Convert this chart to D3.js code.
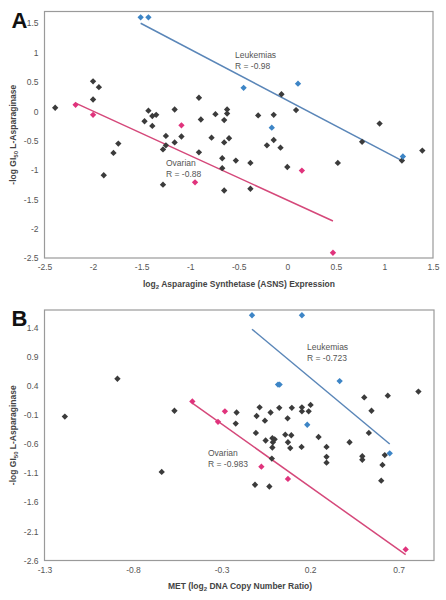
<!DOCTYPE html>
<html><head><meta charset="utf-8">
<script src="https://cdn.jsdelivr.net/npm/d3@7"></script>
<style>body{margin:0;background:#fff;} svg{display:block;font-family:"Liberation Sans",Arial,sans-serif;}</style>
</head><body>
<svg id="c" width="446" height="600"></svg>
<script>
// ---------- Panel A data ----------
const aXTicks = [-2.5,-2,-1.5,-1,-0.5,0,0.5,1,1.5];
const aYTicks = [1.5,1,0.5,0,-0.5,-1,-1.5,-2,-2.5];
const aOther = [[-2.39,0.06],[-2.0,0.51],[-1.94,0.41],[-2.0,0.20],[-1.74,-0.55],[-1.79,-0.71],[-1.89,-1.09],
 [-1.47,-0.17],[-1.43,0.01],[-1.39,-0.08],[-1.35,-0.06],[-1.39,-0.25],[-1.16,0.03],[-1.25,-0.42],[-1.09,-0.43],
 [-1.16,-0.53],[-1.25,-0.58],[-1.28,-0.65],[-1.28,-1.25],[-0.91,0.23],[-0.89,-0.14],[-0.91,-0.70],[-0.74,-0.05],
 [-0.65,-0.15],[-0.62,0.03],[-0.62,-0.04],[-0.78,-0.45],[-0.60,-0.46],[-0.65,-0.53],[-0.67,-0.80],[-0.67,-0.97],
 [-0.53,-0.84],[-0.65,-1.35],[-0.38,-0.88],[-0.38,-1.32],[-0.30,-0.07],[-0.14,-0.06],[-0.06,0.29],[0.09,0.02],
 [-0.21,-0.58],[-0.14,-0.49],[-0.07,-0.62],[0.0,-0.95],[0.52,-0.88],[0.77,-0.52],[0.95,-0.21],[1.18,-0.84],[1.39,-0.67]];
const aOvarian = [[-2.18,0.11],[-2.0,-0.06],[-1.09,-0.24],[-0.95,-1.21],[0.15,-1.01],[0.47,-2.41]];
const aLeuk = [[-1.51,1.6],[-1.43,1.6],[-0.45,0.40],[0.11,0.47],[-0.16,-0.28],[1.19,-0.77]];
const aLeukLine = [[-1.51,1.5],[1.18,-0.84]];
const aOvLine = [[-2.18,0.14],[0.47,-1.87]];

// ---------- Panel B data ----------
const bXTicks = [-1.3,-0.8,-0.3,0.2,0.7];
const bYTicks = [1.4,0.9,0.4,-0.1,-0.6,-1.1,-1.6,-2.1,-2.6];
const bOther = [[-1.185,-0.13],[-0.888,0.52],[-0.566,-0.03],[-0.638,-1.08],[-0.215,-0.06],[-0.22,-0.25],
 [-0.085,0.03],[-0.102,-0.12],[-0.055,-0.20],[-0.023,-0.06],[0.026,0.02],[0.073,-0.16],[0.097,0.02],[0.154,0.03],
 [0.154,-0.04],[0.192,-0.04],[0.203,0.07],[-0.106,-0.41],[-0.051,-0.54],[-0.013,-0.50],[0.0,-0.52],[-0.01,-0.57],
 [-0.013,-0.66],[0.06,-0.44],[0.094,-0.45],[0.075,-0.57],[0.088,-0.67],[0.152,-0.65],[0.248,-0.48],[0.293,-0.65],
 [0.293,-0.82],[0.293,-0.92],[-0.016,-0.85],[-0.111,-1.30],[-0.03,-1.33],[0.506,0.20],[0.639,0.23],[0.812,0.30],
 [0.547,-0.03],[0.532,-0.41],[0.423,-0.57],[0.495,-0.81],[0.495,-0.87],[0.622,-0.79],[0.609,-0.96],[0.602,-1.23]];
const bOvarian = [[-0.465,0.13],[-0.281,-0.04],[-0.32,-0.22],[-0.075,-0.99],[0.075,-1.20],[0.74,-2.41]];
const bLeuk = [[-0.128,1.61],[0.154,1.61],[0.019,0.42],[0.028,0.42],[0.367,0.48],[0.184,-0.27],[0.65,-0.76]];
const bLeukLine = [[-0.128,1.37],[0.65,-0.60]];
const bOvLine = [[-0.465,0.10],[0.74,-2.50]];

const C = {other:"#3b3b3b", ov:"#e0337c", leuk:"#3d85c6", ovLine:"#d5487a", leukLine:"#5a86b8"};
const svg = d3.select("#c");

function panel(o){
  const g = svg.append("g");
  const x = d3.scaleLinear().domain(o.xd).range([o.x0,o.x1]);
  const y = d3.scaleLinear().domain(o.yd).range([o.y1,o.y0]);
  g.append("rect").attr("x",o.x0).attr("y",o.y0).attr("width",o.x1-o.x0).attr("height",o.y1-o.y0)
    .attr("fill","none").attr("stroke","#9a9a9a").attr("stroke-width",1.2);
  const xa = g.append("g").attr("transform",`translate(0,${o.y1})`)
    .call(d3.axisBottom(x).tickValues(o.xt).tickSize(0).tickPadding(6).tickFormat(d=>String(d)));
  const ya = g.append("g").attr("transform",`translate(${o.x0},0)`)
    .call(d3.axisLeft(y).tickValues(o.yt).tickSize(0).tickPadding(6).tickFormat(d=>String(d)));
  [xa,ya].forEach(a=>{a.select(".domain").remove();
    a.selectAll("text").attr("font-size",8.5).attr("fill","#555").attr("font-family","Liberation Sans, Arial, sans-serif");});
  const line = d3.line().x(d=>x(d[0])).y(d=>y(d[1]));
  g.append("path").attr("d",line(o.leukLine)).attr("stroke",C.leukLine).attr("stroke-width",1.5).attr("fill","none");
  g.append("path").attr("d",line(o.ovLine)).attr("stroke",C.ovLine).attr("stroke-width",1.5).attr("fill","none");
  const sym = d3.symbol(d3.symbolSquare,20);
  const pts = (data,col)=>g.append("g").selectAll("path").data(data).join("path")
    .attr("d",sym).attr("fill",col)
    .attr("transform",d=>`translate(${x(d[0])},${y(d[1])}) rotate(45)`);
  pts(o.other,C.other); pts(o.ov,C.ov); pts(o.leuk,C.leuk);
  // annotations
  const ann=(tx,ty,lines)=>lines.forEach((t,i)=>g.append("text").attr("x",tx).attr("y",ty+i*11)
    .attr("font-size",8.5).attr("fill","#555").text(t));
  ann(o.lAnn[0],o.lAnn[1],["Leukemias",o.lR]);
  ann(o.oAnn[0],o.oAnn[1],["Ovarian",o.oR]);
  // panel letter
  g.append("text").attr("x",o.x0-33).attr("y",o.y0+16).attr("font-size",22).attr("font-weight","bold")
    .attr("fill","#111").text(o.letter);
  // y title
  const yt = g.append("text").attr("transform",`translate(16,${(o.y0+o.y1)/2}) rotate(-90)`)
    .attr("text-anchor","middle").attr("font-size",8.5).attr("font-weight","bold").attr("fill","#444");
  yt.append("tspan").text("-log GI");
  yt.append("tspan").attr("font-size",6).attr("dy",2).text("50");
  yt.append("tspan").attr("dy",-2).text(" L-Asparaginase");
  // x title
  const xt = g.append("text").attr("x",o.xtx).attr("y",o.xty).attr("text-anchor","middle")
    .attr("font-size",8.5).attr("font-weight","bold").attr("fill","#444");
  o.xtitle.forEach(p=>{const s=xt.append("tspan").text(p.t); if(p.sub){s.attr("font-size",6).attr("dy",2);} if(p.after){s.attr("dy",-2);} });
}

panel({xd:[-2.5,1.5], yd:[-2.5,1.7], x0:44.5, x1:433, y0:11.5, y1:258, xt:aXTicks, yt:aYTicks,
  other:aOther, ov:aOvarian, leuk:aLeuk, leukLine:aLeukLine, ovLine:aOvLine,
  lAnn:[235,58], lR:"R = -0.98", oAnn:[166,166], oR:"R = -0.88", letter:"A",
  xtx:239, xty:287, xtitle:[{t:"log"},{t:"2",sub:true},{t:" Asparagine Synthetase (ASNS) Expression",after:true}]});

panel({xd:[-1.3,0.9], yd:[-2.6,1.7], x0:44.5, x1:434, y0:310, y1:560.5, xt:bXTicks, yt:bYTicks,
  other:bOther, ov:bOvarian, leuk:bLeuk, leukLine:bLeukLine, ovLine:bOvLine,
  lAnn:[307,350], lR:"R = -0.723", oAnn:[208,456], oR:"R = -0.983", letter:"B",
  xtx:240, xty:589, xtitle:[{t:"MET (log"},{t:"2",sub:true},{t:" DNA Copy Number Ratio)",after:true}]});
</script>
</body></html>
